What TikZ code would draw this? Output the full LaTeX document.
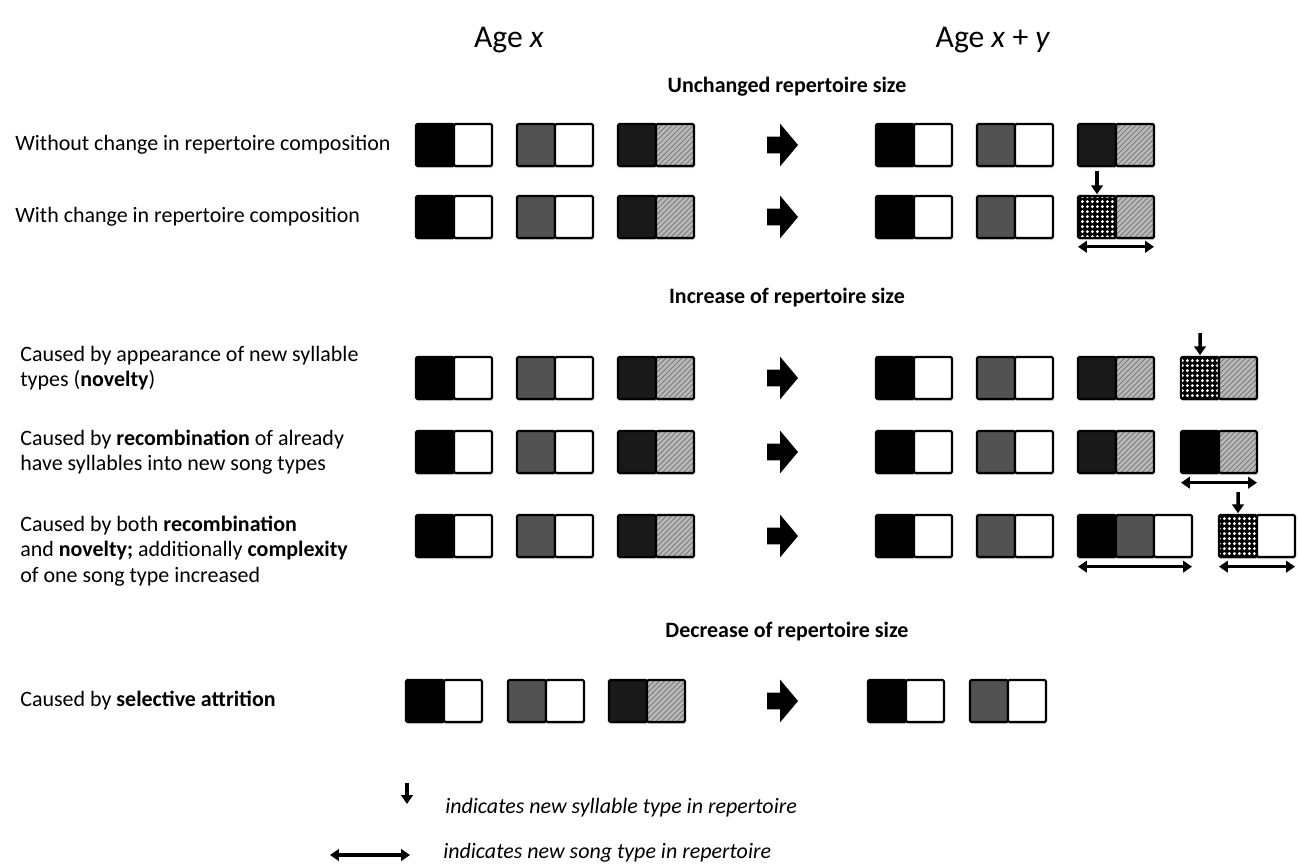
\documentclass[tikz,border=0pt]{standalone}
\usepackage{fontspec}
\setmainfont{Carlito}
\usetikzlibrary{shadows,shapes.arrows,arrows.meta,patterns}
\pgfdeclarepatternformonly{checkdots}{\pgfpoint{0pt}{0pt}}{\pgfpoint{3pt}{3pt}}{\pgfpoint{3pt}{3pt}}{%
  \pgfpathcircle{\pgfpoint{1.5pt}{1.5pt}}{1pt}\pgfusepath{fill}}
% one song type = two syllables side by side
\newcommand{\song}[4]{%
  \node[syl,#3,anchor=west] (#1a) at (#2) {};
  \node[syl,#4,anchor=west] (#1b) at (#1a.east) {};
}

\begin{document}
\begin{tikzpicture}[x=0.02cm,y=-0.02cm,
    syl/.style={draw,line width=1.2pt,rounded corners=0.8pt,minimum width=0.76cm,minimum height=0.84cm,
      inner sep=0pt,outer sep=0pt,drop shadow={opacity=0.35,shadow xshift=0.4pt,shadow yshift=-1.2pt}},
    sblack/.style={fill=black},
    swhite/.style={fill=white},
    sgray/.style={fill=black!68},
    sdark/.style={fill=black!90},
    shatch/.style={preaction={fill=black!28},pattern=north east lines,pattern color=black!55},
    schk/.style={preaction={fill=black},pattern=checkdots,pattern color=white},
    go/.style={single arrow,fill=black,minimum height=0.62cm,single arrow tip angle=100,
      single arrow head extend=0.26cm,inner xsep=0pt,inner ysep=0.16cm},
    newsyl/.style={-{Triangle[length=5pt,width=6.5pt]},line width=2pt},
    newsong/.style={{Triangle[length=5pt,width=6.5pt]}-{Triangle[length=5pt,width=6.5pt]},line width=1.8pt},
    rowlabel/.style={anchor=west,align=left,inner sep=0pt,font=\fontsize{12.5}{14.5}\selectfont},
    head/.style={font=\fontsize{12.5}{14}\selectfont\bfseries}]
  \useasboundingbox (0,0) rectangle (1298,866);

  \node[font=\fontsize{18}{20}\selectfont] (agex) at (509,40) {Age \textit{x}};
  \node[font=\fontsize{18}{20}\selectfont] (agexy) at (993,40) {Age \textit{x} + \textit{y}};

  % unchanged repertoire size
  \node[head] (unchanged) at (787,87) {Unchanged repertoire size};

  \node[rowlabel] (l1) at (15,145) {Without change in repertoire composition};
  \song{r1L1}{416,145}{sblack}{swhite}
  \song{r1L2}{517,145}{sgray}{swhite}
  \song{r1L3}{618,145}{sdark}{shatch}
  \node[go] (r1go) at (779,145) {};
  \song{r1R1}{876,145}{sblack}{swhite}
  \song{r1R2}{977,145}{sgray}{swhite}
  \song{r1R3}{1078,145}{sdark}{shatch}

  \node[rowlabel] (l2) at (15,217) {With change in repertoire composition};
  \song{r2L1}{416,217}{sblack}{swhite}
  \song{r2L2}{517,217}{sgray}{swhite}
  \song{r2L3}{618,217}{sdark}{shatch}
  \node[go] (r2go) at (779,217) {};
  \song{r2R1}{876,217}{sblack}{swhite}
  \song{r2R2}{977,217}{sgray}{swhite}
  \song{r2R3}{1078,217}{schk}{shatch}
  \draw[newsyl,shorten <=3pt,shorten >=1pt] (r1R3a.south) -- (r2R3a.north);
  \draw[newsong] ([yshift=-5pt]r2R3a.south west) -- ([yshift=-5pt]r2R3b.south east);

  % increase of repertoire size
  \node[head] (increase) at (787,298) {Increase of repertoire size};

  \node[rowlabel] (l3) at (20,368) {Caused by appearance of new syllable\\types (\textbf{novelty})};
  \song{r3L1}{416,378}{sblack}{swhite}
  \song{r3L2}{517,378}{sgray}{swhite}
  \song{r3L3}{618,378}{sdark}{shatch}
  \node[go] (r3go) at (779,378) {};
  \song{r3R1}{876,378}{sblack}{swhite}
  \song{r3R2}{977,378}{sgray}{swhite}
  \song{r3R3}{1078,378}{sdark}{shatch}
  \song{r3R4}{1181,378}{schk}{shatch}
  \coordinate (r3in) at (1200,333);
  \draw[newsyl,shorten >=1pt] (r3in) -- (r3R4a.north);

  \node[rowlabel] (l4) at (20,452) {Caused by \textbf{recombination} of already\\have syllables into new song types};
  \song{r4L1}{416,452}{sblack}{swhite}
  \song{r4L2}{517,452}{sgray}{swhite}
  \song{r4L3}{618,452}{sdark}{shatch}
  \node[go] (r4go) at (779,452) {};
  \song{r4R1}{876,452}{sblack}{swhite}
  \song{r4R2}{977,452}{sgray}{swhite}
  \song{r4R3}{1078,452}{sdark}{shatch}
  \song{r4R4}{1181,452}{sblack}{shatch}
  \draw[newsong] ([yshift=-5.5pt]r4R4a.south west) -- ([yshift=-5.5pt]r4R4b.south east);

  \node[rowlabel] (l5) at (20,551) {Caused by both \textbf{recombination}\\and \textbf{novelty;} additionally \textbf{complexity}\\of one song type increased};
  \song{r5L1}{416,536}{sblack}{swhite}
  \song{r5L2}{517,536}{sgray}{swhite}
  \song{r5L3}{618,536}{sdark}{shatch}
  \node[go] (r5go) at (779,536) {};
  \song{r5R1}{876,536}{sblack}{swhite}
  \song{r5R2}{977,536}{sgray}{swhite}
  \song{r5R3}{1078,536}{sblack}{sgray}
  \node[syl,swhite,anchor=west] (r5R3c) at (r5R3b.east) {};
  \song{r5R4}{1219,536}{schk}{swhite}
  \coordinate (r5in) at (1238,492);
  \draw[newsyl,shorten >=1pt] (r5in) -- (r5R4a.north);
  \draw[newsong] ([yshift=-5.5pt]r5R3a.south west) -- ([yshift=-5.5pt]r5R3c.south east);
  \draw[newsong] ([yshift=-5.5pt]r5R4a.south west) -- ([yshift=-5.5pt]r5R4b.south east);

  % decrease of repertoire size
  \node[head] (decrease) at (787,632) {Decrease of repertoire size};

  \node[rowlabel] (l6) at (20,701) {Caused by \textbf{selective attrition}};
  \song{r6L1}{406,701}{sblack}{swhite}
  \song{r6L2}{508,701}{sgray}{swhite}
  \song{r6L3}{609,701}{sdark}{shatch}
  \node[go] (r6go) at (779,701) {};
  \song{r6R1}{868,701}{sblack}{swhite}
  \song{r6R2}{970,701}{sgray}{swhite}

  % legend
  \coordinate (k1top) at (407,783);
  \coordinate (k1bot) at (407,804);
  \draw[newsyl] (k1top) -- (k1bot);
  \node[rowlabel,font=\fontsize{12.5}{14}\selectfont\itshape] (k1) at (445,808) {indicates new syllable type in repertoire};
  \coordinate (k2l) at (330,855);
  \coordinate (k2r) at (410,855);
  \draw[newsong] (k2l) -- (k2r);
  \node[rowlabel,font=\fontsize{12.5}{14}\selectfont\itshape] (k2) at (443,853) {indicates new song type in repertoire};
\end{tikzpicture}
\end{document}
